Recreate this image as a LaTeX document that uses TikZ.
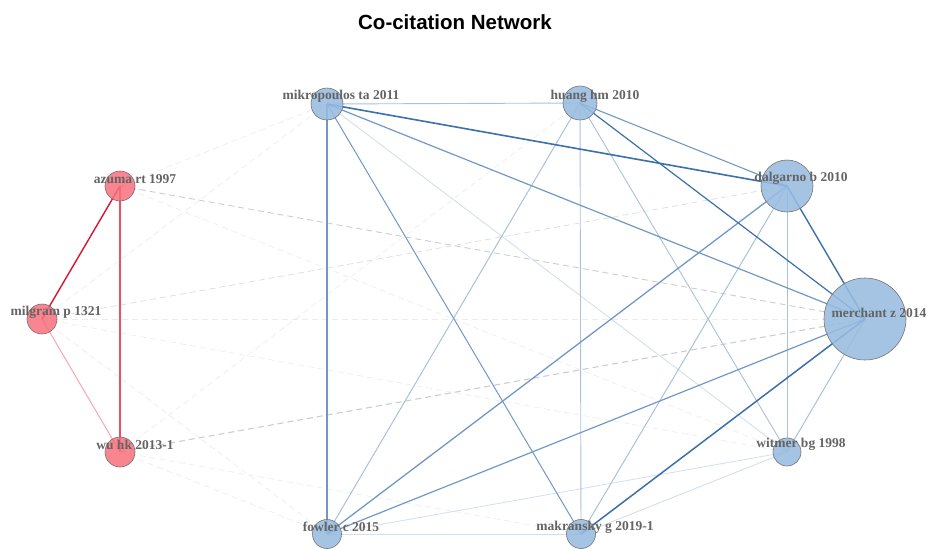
\documentclass[tikz,border=0pt]{standalone}
\usepackage{fontspec}
\setmainfont{Liberation Serif}
\newfontfamily\headfont{Liberation Sans}
\usepackage{xcolor}
\usepackage{tikz}
\usetikzlibrary{shapes}

\definecolor{nodeblue}{RGB}{152,188,224}
\definecolor{nodered}{RGB}{247,112,124}
\definecolor{rimgray}{RGB}{115,115,115}
\definecolor{txtgray}{RGB}{100,100,100}
\definecolor{bluedark}{RGB}{60,112,170}
\definecolor{bluemid}{RGB}{112,152,198}
\definecolor{bluelight}{RGB}{168,194,220}
\definecolor{bluefaint}{RGB}{212,223,236}
\definecolor{reddark}{RGB}{212,22,52}
\definecolor{redmid}{RGB}{242,78,98}
\definecolor{redlight}{RGB}{246,168,178}
\definecolor{graydash}{RGB}{205,205,205}
\definecolor{grayfaint}{RGB}{236,236,240}

\pgfdeclarelayer{edges}
\pgfsetlayers{edges,main}

\tikzset{
    blue node/.style={circle, draw=rimgray, fill=nodeblue, fill opacity=0.88, line width=0.6pt, inner sep=0pt},
    red node/.style={circle, draw=rimgray, fill=nodered, fill opacity=0.85, line width=0.6pt, inner sep=0pt},
    lbl/.style={text=txtgray, font=\fontsize{13.5}{14}\selectfont\bfseries, inner sep=0pt},
    cross/.style={color=grayfaint, line width=0.7pt, dashed, dash pattern=on 6pt off 4pt},
}

\begin{document}
\begin{tikzpicture}[x=1pt, y=-1pt]
    \useasboundingbox (0,0) rectangle (927,549);

    \node [font=\headfont\bfseries\fontsize{20.5}{24}\selectfont] (ttl) at (455,22) {Co-citation Network};

    \node [red node, minimum size=30pt] (az) at (120,186) {};
    \node [red node, minimum size=30pt] (mi) at (42,319) {};
    \node [red node, minimum size=30pt] (wu) at (120,452) {};
    \node [blue node, minimum size=32pt] (mk) at (327,104) {};
    \node [blue node, minimum size=34pt] (hu) at (580,103) {};
    \node [blue node, minimum size=52pt] (da) at (787,186) {};
    \node [blue node, minimum size=82pt] (me) at (865,319) {};
    \node [blue node, minimum size=28pt] (wi) at (787,452) {};
    \node [blue node, minimum size=29pt] (ma) at (581,534) {};
    \node [blue node, minimum size=29pt] (fo) at (327,534) {};

    \begin{pgfonlayer}{edges}
        \draw [cross] (az.center) -- (mk.center);
        \draw [cross] (az.center) -- (wi.center);
        \draw [cross] (mi.center) -- (mk.center);
        \draw [cross] (mi.center) -- (me.center);
        \draw [cross] (mi.center) -- (wi.center);
        \draw [cross] (mi.center) -- (fo.center);
        \draw [cross] (wu.center) -- (hu.center);
        \draw [cross] (wu.center) -- (fo.center);
        \draw [cross] (wu.center) -- (ma.center);
        \draw [cross, color=graydash!70] (mi.center) -- (da.center);
        \draw [cross, color=graydash, line width=0.9pt] (az.center) -- (me.center);
        \draw [cross, color=graydash, line width=1.1pt] (wu.center) -- (me.center);

        \draw [redlight, line width=1pt] (mi.center) -- (wu.center);
        \draw [reddark, line width=1.4pt] (az.center) -- (mi.center);
        \draw [redmid, line width=1.5pt] (az.center) -- (wu.center);

        \draw [bluefaint, line width=0.8pt] (fo.center) -- (ma.center);
        \draw [bluefaint, line width=0.8pt] (wi.center) -- (fo.center);
        \draw [bluefaint, line width=0.9pt] (wi.center) -- (ma.center);
        \draw [bluefaint, line width=0.9pt] (mk.center) -- (wi.center);
        \draw [bluelight, line width=0.9pt] (mk.center) -- (hu.center);
        \draw [bluelight, line width=0.9pt] (hu.center) -- (ma.center);
        \draw [bluelight, line width=0.9pt] (hu.center) -- (wi.center);
        \draw [bluelight, line width=0.9pt] (da.center) -- (wi.center);
        \draw [bluelight, line width=1pt] (da.center) -- (ma.center);
        \draw [bluelight, line width=1pt] (hu.center) -- (fo.center);
        \draw [bluelight, line width=1pt] (me.center) -- (wi.center);
        \draw [bluemid, line width=1.1pt] (mk.center) -- (fo.center);
        \draw [bluemid, line width=1pt] (mk.center) -- (ma.center);
        \draw [bluemid, line width=1.1pt] (hu.center) -- (da.center);
        \draw [bluemid, line width=1.2pt] (mk.center) -- (me.center);
        \draw [bluemid, line width=1.2pt] (me.center) -- (fo.center);
        \draw [bluemid, line width=1.3pt] (da.center) -- (fo.center);
        \draw [bluedark, line width=1.2pt] (hu.center) -- (me.center);
        \draw [bluedark, line width=1.4pt] (da.center) -- (me.center);
        \draw [bluedark, line width=1.5pt] (me.center) -- (ma.center);
        \draw [bluedark, line width=1.6pt] (mk.center) -- (da.center);
    \end{pgfonlayer}

    \node [lbl] (az-l) at (135,179) {azuma rt 1997};
    \node [lbl] (mi-l) at (56,312) {milgram p 1321};
    \node [lbl] (wu-l) at (135,445) {wu hk 2013-1};
    \node [lbl] (mk-l) at (341,96) {mikropoulos ta 2011};
    \node [lbl] (hu-l) at (595,96) {huang hm 2010};
    \node [lbl] (da-l) at (801,178) {dalgarno b 2010};
    \node [lbl] (me-l) at (879,313) {merchant z 2014};
    \node [lbl] (wi-l) at (801,444) {witmer bg 1998};
    \node [lbl] (ma-l) at (595,527) {makransky g 2019-1};
    \node [lbl] (fo-l) at (341,527) {fowler c 2015};
\end{tikzpicture}
\end{document}
